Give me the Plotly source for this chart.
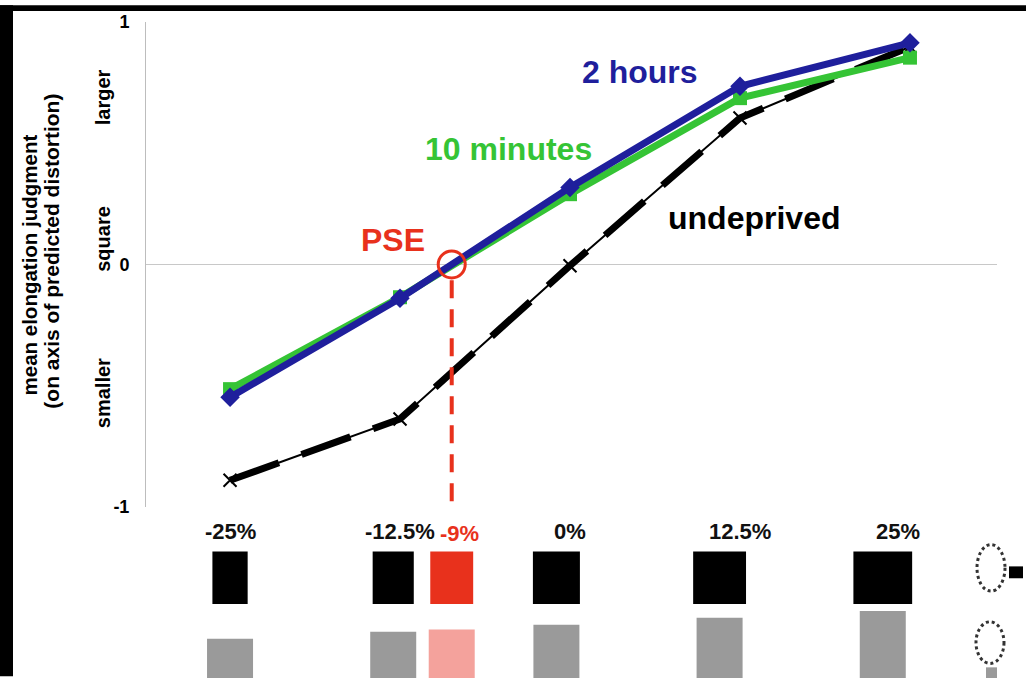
import plotly.graph_objects as go

# stimulus distortion (% elongation) at which each curve was measured
X_PCT = [-25, -12.5, 0, 12.5, 25]
TWO_HOURS = [-0.547, -0.139, 0.318, 0.735, 0.914]
TEN_MIN = [-0.514, -0.135, 0.290, 0.686, 0.853]
UNDEPRIVED = [-0.890, -0.637, -0.005, 0.604, 0.898]

# stimulus strip under the axis
STIM_PCT = [-25, -12.5, 0, 12.5, 25]
STIM_LABELS = ["-25%", "-12.5%", "0%", "12.5%", "25%"]
PSE_LABEL = "-9%"

Y_TICKS = [-1, 0, 1]
Y_TICKTEXT = ["-1", "0", "1"]

BLUE = "#1f1f9c"
GREEN = "#35c435"
RED = "#e8311c"
PINK = "#f4a29c"
GRAY = "#9a9a9a"
FONT = "Liberation Sans, Arial, sans-serif"

W, H = 1026, 678
ML, MR, MT, MB = 146, 29, 17, 171
XR = [-31.18, 31.4]
PPU = (W - ML - MR) / (XR[1] - XR[0])  # pixels per % unit


def px(x):  # pixel column -> paper x
    return (x - ML) / (W - ML - MR)


def py(y):  # pixel row -> paper y
    return (H - MB - y) / (H - MT - MB)


# PSE: where the 2-hour curve crosses "square"
pse = None
for i in range(len(X_PCT) - 1):
    a, b = TWO_HOURS[i], TWO_HOURS[i + 1]
    if a <= 0 <= b:
        pse = X_PCT[i] + (X_PCT[i + 1] - X_PCT[i]) * (-a) / (b - a)
        break

fig = go.Figure()
fig.add_trace(go.Scatter(x=X_PCT, y=UNDEPRIVED, mode="lines+markers",
                         line=dict(color="black", width=2),
                         marker=dict(symbol="x-thin-open", size=13, color="black",
                                     line=dict(width=2)),
                         showlegend=False))
fig.add_trace(go.Scatter(x=X_PCT, y=UNDEPRIVED, mode="lines",
                         line=dict(color="black", width=7, dash="52px,24px"),
                         showlegend=False))
fig.add_trace(go.Scatter(x=X_PCT, y=TEN_MIN, mode="lines+markers",
                         line=dict(color=GREEN, width=7),
                         marker=dict(symbol="square", size=14, color=GREEN),
                         showlegend=False))
fig.add_trace(go.Scatter(x=X_PCT, y=TWO_HOURS, mode="lines+markers",
                         line=dict(color=BLUE, width=7),
                         marker=dict(symbol="diamond", size=15, color=BLUE),
                         showlegend=False))
# PSE marker and drop line
fig.add_trace(go.Scatter(x=[pse, pse], y=[-0.065, -1], mode="lines",
                         line=dict(color=RED, width=4, dash="18px,11px"),
                         showlegend=False))
fig.add_trace(go.Scatter(x=[pse], y=[0], mode="markers",
                         marker=dict(symbol="circle-open", size=27, color=RED,
                                     line=dict(width=3)),
                         showlegend=False))

shapes = []
# black frame edges of the original slide
shapes.append(dict(type="rect", xref="paper", yref="paper", x0=px(0), x1=px(13),
                   y0=py(H), y1=py(0), fillcolor="black", line_width=0, layer="above"))
shapes.append(dict(type="rect", xref="paper", yref="paper", x0=px(0), x1=px(W),
                   y0=py(6), y1=py(0), fillcolor="black", line_width=0, layer="above"))


# stimuli: black row elongates horizontally, gray row vertically
def stim(center, p, dark, light):
    w = 47 / PPU * (1 + p / 100)
    shapes.append(dict(type="rect", xref="x", yref="paper",
                       x0=center - w / 2, x1=center + w / 2, y0=py(605), y1=py(552),
                       fillcolor=dark, line_width=0))
    gw = 46 / PPU
    gh = 56 * (1 + p / 100)
    shapes.append(dict(type="rect", xref="x", yref="paper",
                       x0=center - gw / 2, x1=center + gw / 2, y0=py(682), y1=py(682 - gh),
                       fillcolor=light, line_width=0))


for p in STIM_PCT:
    stim(0.96 * p - 1.0, p, "black", GRAY)
stim(pse, pse, RED, PINK)

# orientation icons at the right
for (x0, x1, y0, y1) in [(977, 1005, 545, 592), (976, 1004, 623, 665)]:
    shapes.append(dict(type="circle", xref="paper", yref="paper",
                       x0=px(x0), x1=px(x1), y0=py(y1), y1=py(y0),
                       line=dict(color="#333333", width=3, dash="dot")))
shapes.append(dict(type="rect", xref="paper", yref="paper", x0=px(1009), x1=px(1023),
                   y0=py(579), y1=py(567), fillcolor="black", line_width=0))
shapes.append(dict(type="rect", xref="paper", yref="paper", x0=px(986), x1=px(997),
                   y0=py(680), y1=py(669), fillcolor=GRAY, line_width=0))

ann = []
for p, lab in zip(STIM_PCT, STIM_LABELS):
    ann.append(dict(x=p, y=py(532), xref="x", yref="paper", text=f"<b>{lab}</b>",
                    xshift=-12 if p == 25 else 0,
                    font=dict(size=22, color="#111111")))
ann.append(dict(x=pse, y=py(534), xref="x", yref="paper", text=f"<b>{PSE_LABEL}</b>",
                xshift=8, font=dict(size=22, color=RED)))

ann += [
    dict(x=px(640), y=py(68), text="<b>2 hours</b>", font=dict(size=32, color=BLUE)),
    dict(x=px(508), y=py(145), text="<b>10 minutes</b>", font=dict(size=32, color=GREEN)),
    dict(x=px(754), y=py(215), text="<b>undeprived</b>", font=dict(size=32, color="black")),
    dict(x=px(393), y=py(237), text="<b>PSE</b>", font=dict(size=32, color=RED)),
    dict(x=px(29), y=py(263), text="<b>mean elongation judgment</b>", textangle=-90,
         font=dict(size=20.5, color="black")),
    dict(x=px(52), y=py(249), text="<b>(on axis of predicted distortion)</b>", textangle=-90,
         font=dict(size=21, color="black")),
    dict(x=px(103), y=py(93), text="<b>larger</b>", textangle=-90,
         font=dict(size=20, color="black")),
    dict(x=px(103), y=py(236), text="<b>square</b>", textangle=-90,
         font=dict(size=20, color="black")),
    dict(x=px(103), y=py(392), text="<b>smaller</b>", textangle=-90,
         font=dict(size=20, color="black")),
]
for i, a in enumerate(ann):
    a.update(showarrow=False, xanchor="center", yanchor="middle")
    if i > len(STIM_PCT):
        a.update(xref="paper", yref="paper")

fig.update_layout(
    width=W, height=H,
    margin=dict(l=ML, r=MR, t=MT, b=MB),
    paper_bgcolor="white", plot_bgcolor="white",
    font=dict(family=FONT, color="black"),
    shapes=shapes, annotations=ann,
    showlegend=False,
)
fig.update_xaxes(range=XR, visible=False)
fig.update_yaxes(range=[-1, 1], tickvals=Y_TICKS, ticktext=Y_TICKTEXT,
                 tickfont=dict(size=18, color="black", weight="bold"),
                 ticks="", ticklabelstandoff=12,
                 showgrid=False, zeroline=True, zerolinecolor="#c8c8c8", zerolinewidth=1,
                 showline=True, linecolor="#bdbdbd", linewidth=1)

fig.write_html("out.html", config={"displayModeBar": False},
               post_script="document.body.style.margin='0';")
